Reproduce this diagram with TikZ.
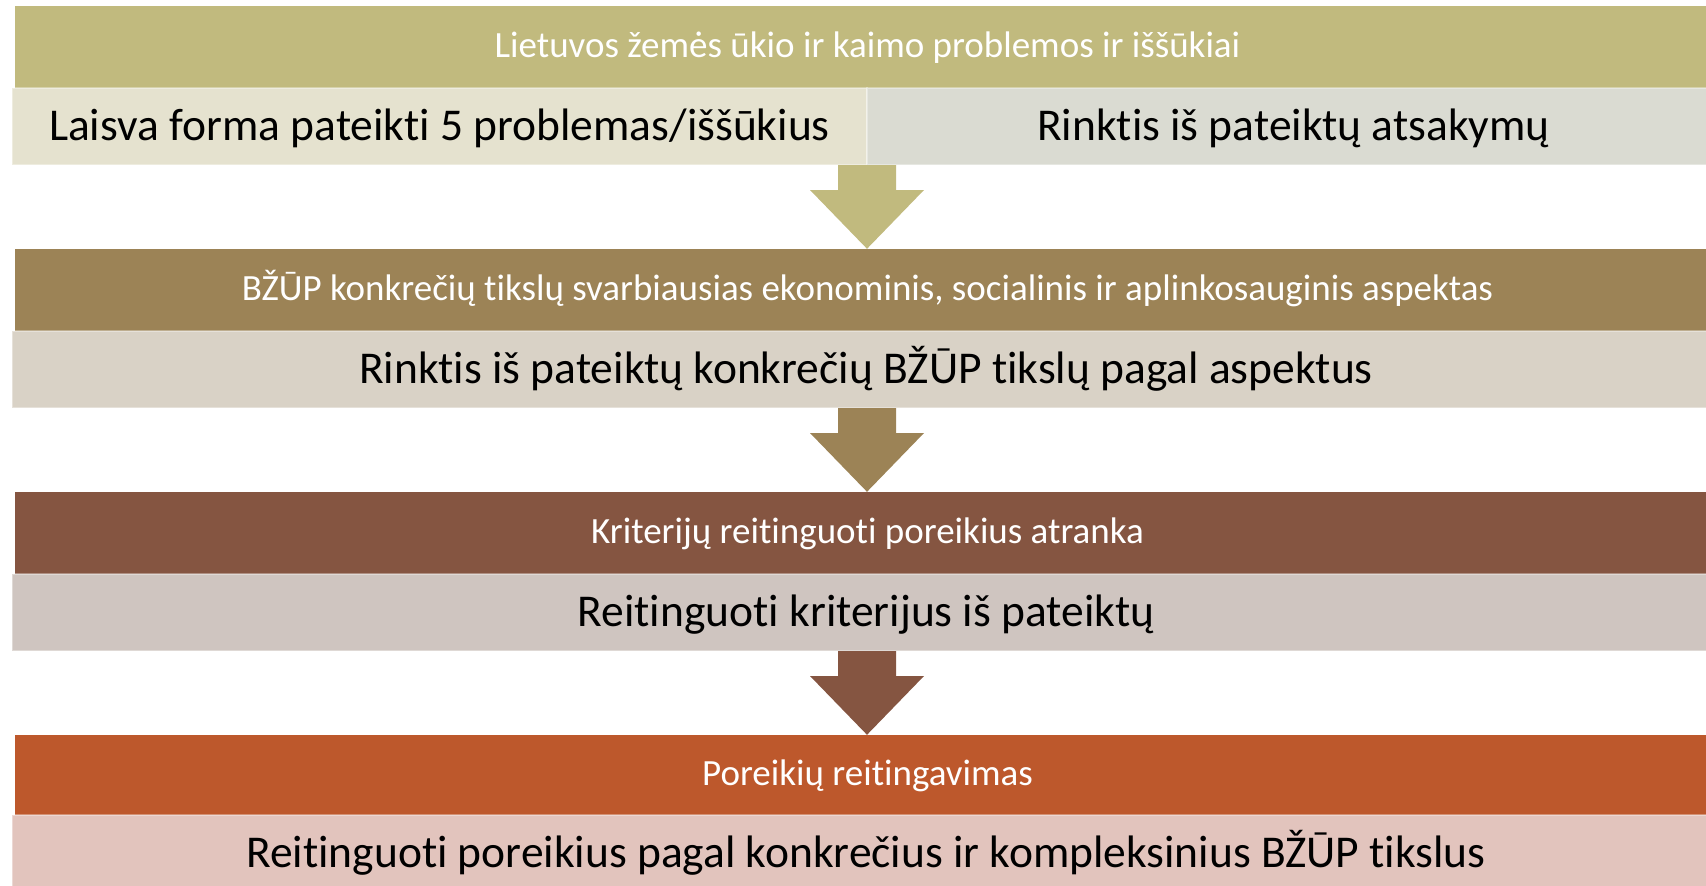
\documentclass[tikz,border=0pt]{standalone}
\usepackage{fontspec}
\setmainfont{Carlito}[Ligatures=NoCommon]
\usetikzlibrary{calc}
\definecolor{hA}{HTML}{C1BA7E}
\definecolor{sAL}{HTML}{E5E2CF}
\definecolor{sAR}{HTML}{DADBD2}
\definecolor{hB}{HTML}{9C8356}
\definecolor{sB}{HTML}{D9D2C6}
\definecolor{hC}{HTML}{855541}
\definecolor{sC}{HTML}{CFC5C0}
\definecolor{hD}{HTML}{BD582C}
\definecolor{sD}{HTML}{E2C4BD}
\tikzset{
  hdr/.style={rectangle, inner sep=0pt, minimum width=1705pt, minimum height=82pt,
    text=white, font=\fontsize{37}{40}\selectfont, text depth=0pt, text height=21pt},
  sub/.style={rectangle, inner sep=0pt, minimum height=77pt, draw=white, draw opacity=0.35,
    line width=1.2pt, text=black, font=\fontsize{45.5}{50}\selectfont, text depth=0pt, text height=27pt}
}
\begin{document}
\begin{tikzpicture}[x=1pt,y=-1pt]
\useasboundingbox (0,0) rectangle (1706,886);
\clip (0,0) rectangle (1706,886);
% band 1
\node[hdr, fill=hA] (h1) at (867.5,47) {Lietuvos žemės ūkio ir kaimo problemos ir iššūkiai};
\node[sub, fill=sAL, minimum width=855pt] (s1l) at (439.5,126.5) {Laisva forma pateikti 5 problemas/iššūkius};
\node[sub, fill=sAR, minimum width=853pt] (s1r) at (1293.5,126.5) {Rinktis iš pateiktų atsakymų};
\coordinate (s1) at (867,165);
% band 2
\node[hdr, fill=hB] (h2) at (867.5,290) {BŽŪP konkrečių tikslų svarbiausias ekonominis, socialinis ir aplinkosauginis aspektas};
\node[sub, fill=sB, minimum width=1708pt] (s2) at (866,369.5) {Rinktis iš pateiktų konkrečių BŽŪP tikslų pagal aspektus};
% band 3
\node[hdr, fill=hC] (h3) at (867.5,533) {Kriterijų reitinguoti poreikius atranka};
\node[sub, fill=sC, minimum width=1708pt] (s3) at (866,612.5) {Reitinguoti kriterijus iš pateiktų};
% band 4
\node[hdr, fill=hD, minimum height=80pt] (h4) at (867.5,775) {Poreikių reitingavimas};
\node[sub, fill=sD, minimum width=1708pt] (s4) at (866,853.5) {Reitinguoti poreikius pagal konkrečius ir kompleksinius BŽŪP tikslus};
% arrows
\fill[hA] ($(s1)+(-29,0)$) -- ($(s1)+(29,0)$) -- ($(s1)+(29,25)$) -- ($(s1)+(57,25)$)
  -- (h2.north -| s1) -- ($(s1)+(-57,25)$) -- ($(s1)+(-29,25)$) -- cycle;
\coordinate (s2b) at (867,408);
\fill[hB] ($(s2b)+(-29,0)$) -- ($(s2b)+(29,0)$) -- ($(s2b)+(29,25)$) -- ($(s2b)+(57,25)$)
  -- (h3.north -| s2b) -- ($(s2b)+(-57,25)$) -- ($(s2b)+(-29,25)$) -- cycle;
\coordinate (s3b) at (867,651);
\fill[hC] ($(s3b)+(-29,0)$) -- ($(s3b)+(29,0)$) -- ($(s3b)+(29,25)$) -- ($(s3b)+(57,25)$)
  -- (h4.north -| s3b) -- ($(s3b)+(-57,25)$) -- ($(s3b)+(-29,25)$) -- cycle;
\end{tikzpicture}
\end{document}
